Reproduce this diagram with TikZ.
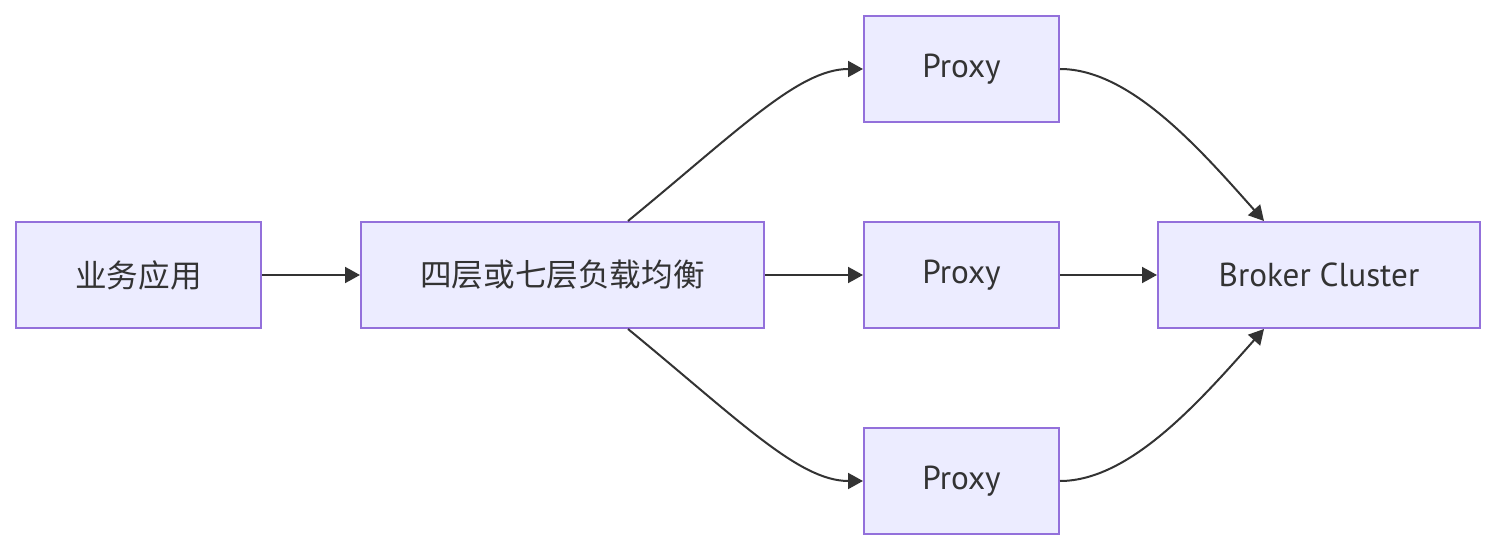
\documentclass[tikz,border=0pt]{standalone}
\usepackage{fontspec}
\setmainfont{PT Sans}
\newfontfamily\cjk{Noto Sans CJK SC}
\usetikzlibrary{arrows.meta}
\definecolor{nodefill}{HTML}{ECECFF}
\definecolor{nodeline}{HTML}{9370DB}
\definecolor{ink}{HTML}{333333}
\tikzset{
  box/.style={draw=nodeline, fill=nodefill, line width=1pt, inner sep=0pt,
    minimum height=53pt, text=ink, font=\fontsize{16.6pt}{19pt}\selectfont},
  cjkt/.style={font=\cjk\fontsize{15.8pt}{18pt}\selectfont},
  arr/.style={draw=ink, line width=1pt, -{Triangle[length=7.5pt,width=8pt]}},
}
\begin{document}
\begin{tikzpicture}[x=0.5pt,y=-0.5pt]
\useasboundingbox (0,0) rectangle (1512,556);
\node[box, cjkt, minimum width=122.5pt] (app) at (138.5,275) {业务应用};
\node[box, cjkt, minimum width=201.5pt] (lb) at (562.5,275) {四层或七层负载均衡};
\node[box, minimum width=97.5pt] (p1) at (961.5,69) {Proxy};
\node[box, minimum width=97.5pt] (p2) at (961.5,275) {Proxy};
\node[box, minimum width=97.5pt] (p3) at (961.5,481) {Proxy};
\node[box, minimum width=161pt] (bc) at (1319,275) {Broker Cluster};
\draw[arr] (app) -- (lb);
\draw[arr] (lb) -- (p2);
\draw[arr] (p2) -- (bc);
\draw[arr] ([xshift=32.75pt]lb.north) .. controls +(56pt,46pt) and +(-32pt,0pt) .. (p1.west);
\draw[arr] ([xshift=32.75pt]lb.south) .. controls +(56pt,-46pt) and +(-32pt,0pt) .. (p3.west);
\draw[arr] (p1.east) .. controls +(35pt,0pt) and +(-32pt,36pt) .. ([xshift=-27.5pt]bc.north);
\draw[arr] (p3.east) .. controls +(35pt,0pt) and +(-32pt,-36pt) .. ([xshift=-27.5pt]bc.south);
\end{tikzpicture}
\end{document}
